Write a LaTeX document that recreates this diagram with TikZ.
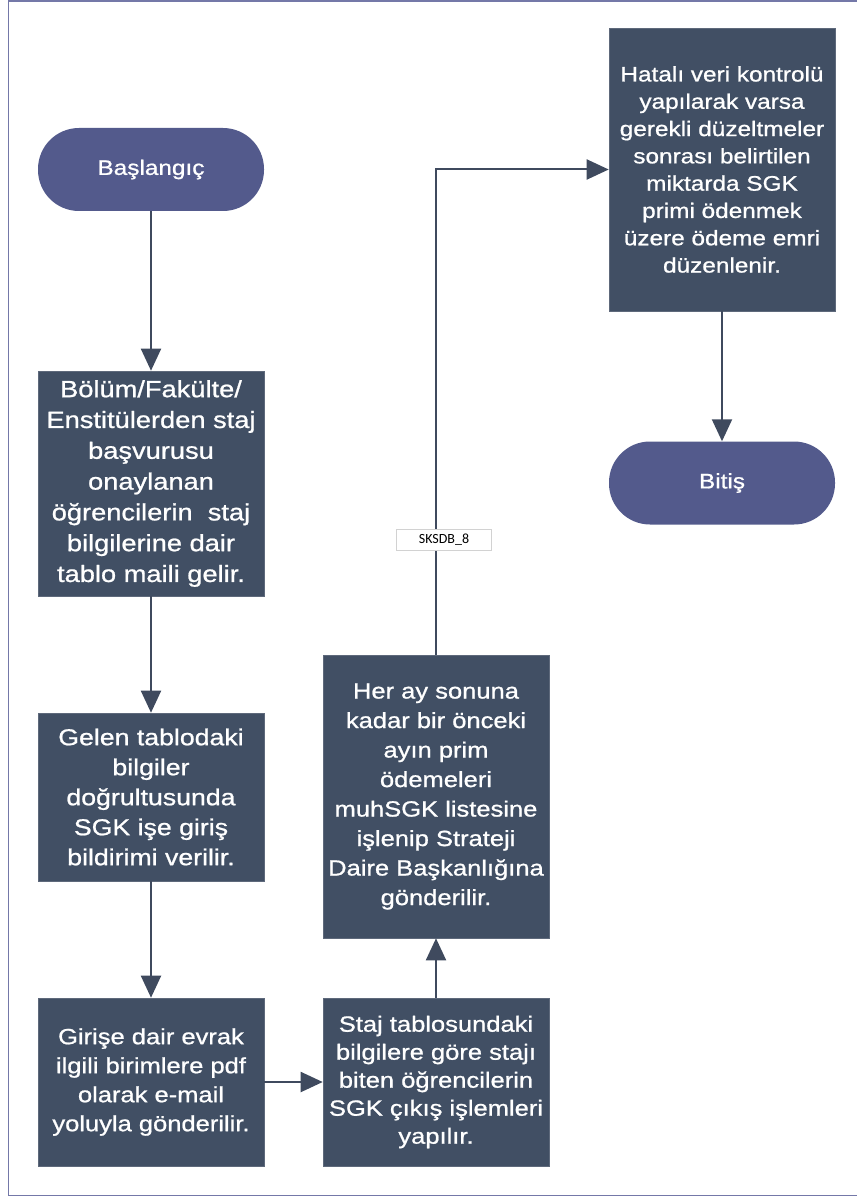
\documentclass[tikz,border=0pt]{standalone}
\usepackage{fontspec}
\setmainfont{Liberation Sans}[FakeStretch=1.16,FakeBold=0.9]
\newfontfamily\lblfont{Carlito}
\usetikzlibrary{arrows.meta}
\definecolor{boxc}{HTML}{414F64}
\definecolor{termc}{HTML}{535A8C}
\definecolor{linec}{HTML}{3F4A5E}
\definecolor{borderc}{HTML}{7478A8}
\tikzset{
  procbox/.style={draw=boxc!85!white, line width=0.6pt, fill=boxc, text=white, inner sep=0pt, minimum width=226pt, align=center},
  termbox/.style={fill=termc, text=white, inner sep=0pt, minimum width=226pt, minimum height=83pt, rounded corners=41pt, font=\fontsize{21}{27}\selectfont},
  conn/.style={draw=linec, line width=2pt, -{Triangle[length=22pt,width=20pt]}},
  lbl/.style={draw=gray!35, fill=white, line width=0.6pt, minimum width=95pt, minimum height=21pt, inner sep=0pt, font=\lblfont\fontsize{14}{16}\selectfont}
}
\begin{document}
\begin{tikzpicture}[x=1pt,y=-1pt]
\useasboundingbox (0,0) rectangle (856,1198);
\draw[borderc, line width=1.5pt] (8.5,0.8) rectangle (857.5,1195.5);

\node[termbox] (start) at (151,169.5) {Başlangıç};
\node[procbox, minimum height=225pt, font=\fontsize{23.5}{30.8}\selectfont] (b1) at (151,483.5)
  {Bölüm/Fakülte/\\Enstitülerden staj\\başvurusu\\onaylanan\\öğrencilerin\ \ staj\\bilgilerine dair\\tablo maili gelir.};
\node[procbox, minimum height=168pt, font=\fontsize{23}{30}\selectfont] (b2) at (151,797)
  {Gelen tablodaki\\bilgiler\\doğrultusunda\\SGK işe giriş\\bildirimi verilir.};
\node[procbox, minimum height=168pt, font=\fontsize{22}{29}\selectfont] (b3) at (151,1082)
  {Girişe dair evrak\\ilgili birimlere pdf\\olarak e-mail\\yoluyla gönderilir.};
\node[procbox, minimum height=168pt, font=\fontsize{22}{28}\selectfont] (b4) at (436,1082)
  {Staj tablosundaki\\bilgilere göre stajı\\biten öğrencilerin\\SGK çıkış işlemleri\\yapılır.};
\node[procbox, minimum height=283pt, font=\fontsize{22}{29.5}\selectfont] (b5) at (436,796.5)
  {Her ay sonuna\\kadar bir önceki\\ayın prim\\ödemeleri\\muhSGK listesine\\işlenip Strateji\\Daire Başkanlığına\\gönderilir.};
\node[procbox, minimum height=283pt, font=\fontsize{21}{27.3}\selectfont] (b6) at (722,169.5)
  {Hatalı veri kontrolü\\yapılarak varsa\\gerekli düzeltmeler\\sonrası belirtilen\\miktarda SGK\\primi ödenmek\\üzere ödeme emri\\düzenlenir.};
\node[termbox] (end) at (722,483) {Bitiş};

\draw[conn] (start) -- (b1);
\draw[conn] (b1) -- (b2);
\draw[conn] (b2) -- (b3);
\draw[conn] (b3) -- (b4);
\draw[conn] (b4) -- (b5);
\draw[conn] (b5.north) |- (b6.west);
\draw[conn] (b6) -- (end);
\node[lbl] (lab) at (444,539.5) {SKSDB\_8};
\end{tikzpicture}
\end{document}
